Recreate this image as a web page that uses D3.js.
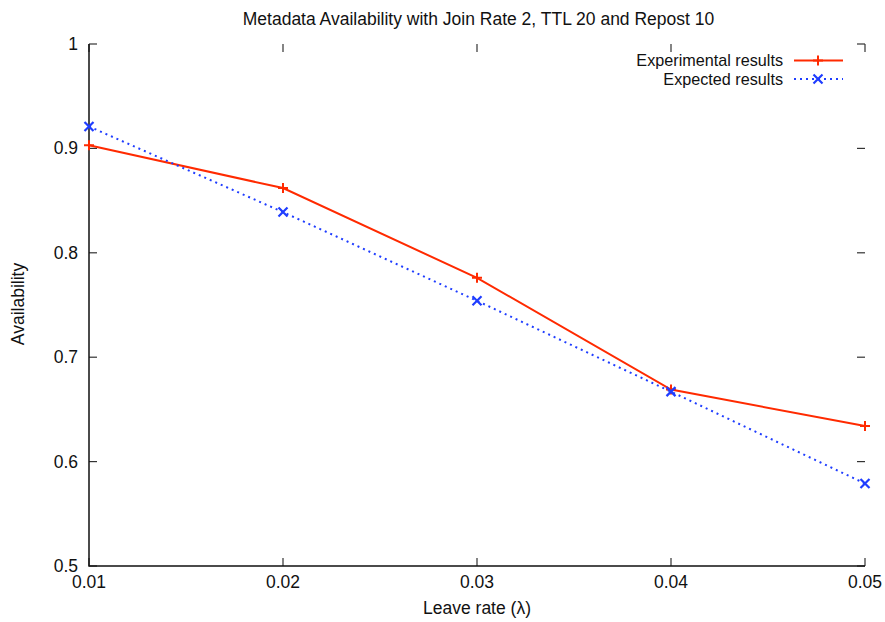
<!DOCTYPE html>
<html><head><meta charset="utf-8">
<script src="https://cdn.jsdelivr.net/npm/d3@7"></script>
<style>
body{margin:0;background:#fff;}
text{font-family:"Liberation Sans",Arial,sans-serif;fill:#111;}
</style></head>
<body><svg id="c" width="885" height="622"></svg>
<script>
const leaveRates = [0.01, 0.02, 0.03, 0.04, 0.05];
const experimental = [0.903, 0.862, 0.776, 0.669, 0.634];
const expected = [0.921, 0.839, 0.754, 0.667, 0.579];
const xTicks = [0.01, 0.02, 0.03, 0.04, 0.05];
const yTicks = [0.5, 0.6, 0.7, 0.8, 0.9, 1];
const seriesNames = ["Experimental results", "Expected results"];
const titleText = "Metadata Availability with Join Rate 2, TTL 20 and Repost 10";

const svg = d3.select("#c");
const L = 89, R = 865, T = 44, B = 566;
const x = d3.scaleLinear().domain([0.01, 0.05]).range([L, R]);
const y = d3.scaleLinear().domain([0.5, 1]).range([B, T]);
const red = "#ff2a00", blue = "#1f3dff";
const tl = 8;
const fs = 17.5;

// ticks (mirrored)
const tg = svg.append("g").attr("stroke", "#333").attr("stroke-width", 1.2);
xTicks.forEach(v => {
  tg.append("line").attr("x1", x(v)).attr("x2", x(v)).attr("y1", B).attr("y2", B - tl);
  tg.append("line").attr("x1", x(v)).attr("x2", x(v)).attr("y1", T).attr("y2", T + tl);
});
yTicks.forEach(v => {
  tg.append("line").attr("x1", L).attr("x2", L + tl).attr("y1", y(v)).attr("y2", y(v));
  tg.append("line").attr("x1", R).attr("x2", R - tl).attr("y1", y(v)).attr("y2", y(v));
});
// border (left + bottom)
svg.append("path").attr("d", `M${L},${T}V${B}H${R}`).attr("fill", "none").attr("stroke", "#111").attr("stroke-width", 1.5);

// tick labels
xTicks.forEach(v => svg.append("text").attr("x", x(v)).attr("y", 588).attr("text-anchor", "middle")
  .attr("font-size", fs).text(String(v)));
yTicks.forEach(v => svg.append("text").attr("x", 78).attr("y", y(v) + 6).attr("text-anchor", "end")
  .attr("font-size", fs).text(String(v)));

// title & labels
svg.append("text").attr("x", 478.5).attr("y", 25).attr("text-anchor", "middle").attr("font-size", fs).text(titleText);
svg.append("text").attr("x", 477).attr("y", 614).attr("text-anchor", "middle").attr("font-size", fs).text("Leave rate (λ)");
svg.append("text").attr("transform", "translate(24,304) rotate(-90)").attr("text-anchor", "middle").attr("font-size", fs).text("Availability");

const line = d3.line().x((d, i) => x(leaveRates[i])).y(d => y(d));
svg.append("path").datum(experimental).attr("d", line).attr("fill", "none").attr("stroke", red).attr("stroke-width", 2);
svg.append("path").datum(expected).attr("d", line).attr("fill", "none").attr("stroke", blue).attr("stroke-width", 2)
  .attr("stroke-dasharray", "2,4");

function plus(g, cx, cy, c) {
  g.append("path").attr("d", `M${cx-5},${cy}H${cx+5}M${cx},${cy-5}V${cy+5}`).attr("stroke", c).attr("stroke-width", 2);
}
function cross(g, cx, cy, c) {
  g.append("path").attr("d", `M${cx-4.5},${cy-4.5}L${cx+4.5},${cy+4.5}M${cx-4.5},${cy+4.5}L${cx+4.5},${cy-4.5}`).attr("stroke", c).attr("stroke-width", 2.2);
}
experimental.forEach((v, i) => plus(svg, x(leaveRates[i]), y(v), red));
expected.forEach((v, i) => cross(svg, x(leaveRates[i]), y(v), blue));

// legend
const lfs = 16.2;
const ly1 = 60.5, ly2 = 79;
svg.append("text").attr("x", 783).attr("y", ly1 + 5.5).attr("text-anchor", "end").attr("font-size", lfs).text(seriesNames[0]);
svg.append("text").attr("x", 783).attr("y", ly2 + 5.5).attr("text-anchor", "end").attr("font-size", lfs).text(seriesNames[1]);
svg.append("line").attr("x1", 794).attr("x2", 843).attr("y1", ly1).attr("y2", ly1).attr("stroke", red).attr("stroke-width", 2);
plus(svg, 818, ly1, red);
svg.append("line").attr("x1", 794).attr("x2", 843).attr("y1", ly2).attr("y2", ly2).attr("stroke", blue).attr("stroke-width", 2).attr("stroke-dasharray", "2,4");
cross(svg, 818, ly2, blue);
</script></body></html>
